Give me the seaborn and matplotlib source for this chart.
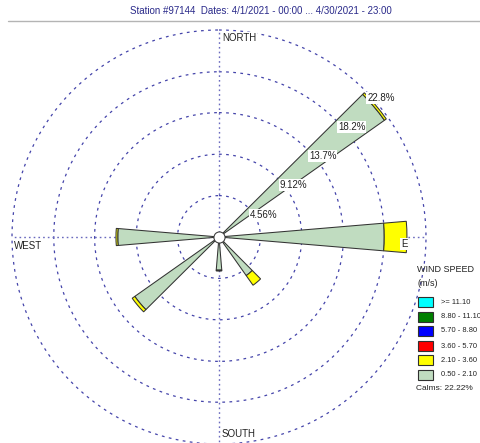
import numpy as np
import matplotlib
matplotlib.use('Agg')
import matplotlib.pyplot as plt
from matplotlib.patches import Rectangle
from matplotlib.lines import Line2D
import seaborn as sns

# wind directions (degrees from north) that have any data
directions = [50, 90, 140, 180, 230, 270]
# frequency (%) per speed class, from the centre outward
freq_050_210 = [22.3, 18.2, 5.2, 3.65, 11.35, 11.15]
freq_210_360 = [0.25, 2.5, 1.3, 0.1, 0.35, 0.2]
freq_360_570 = [0, 0, 0, 0, 0, 0]
freq_570_880 = [0, 0, 0, 0, 0, 0]
freq_880_1110 = [0, 0, 0, 0, 0, 0]
freq_ge_1110 = [0, 0, 0, 0, 0, 0]

class_labels = ['>= 11.10', '8.80 - 11.10', '5.70 - 8.80', '3.60 - 5.70', '2.10 - 3.60', '0.50 - 2.10']
class_colors = ['#00ffff', '#008000', '#0000ff', '#ff0000', '#ffff00', '#c0dcc0']

ring_values = [4.56, 9.12, 13.7, 18.2, 22.8]
ring_labels = ['4.56%', '9.12%', '13.7%', '18.2%', '22.8%']
calms = 22.22
title = 'Station #97144  Dates: 4/1/2021 - 00:00 ... 4/30/2021 - 23:00'

sns.set_style('white')
plt.rcParams['font.family'] = ['Liberation Sans', 'DejaVu Sans']

W, H = 480, 443
fig = plt.figure(figsize=(W / 100, H / 100), dpi=100)

# polar axes sized so the outer ring sits where it is in the original
cx, cy, R = 219, 237, 207
ax = fig.add_axes([(cx - R) / W, (H - cy - R) / H, 2 * R / W, 2 * R / H], projection='polar')
ax.set_theta_zero_location('N')
ax.set_theta_direction(-1)
rmax = ring_values[-1]
ax.set_ylim(0, rmax)
ax.set_axis_off()

# dashed rings
t = np.linspace(0, 2 * np.pi, 500)
for r in ring_values:
    ax.plot(t, np.full_like(t, r), color='#4444aa', lw=0.9, ls=(0, (2.2, 3.5)),
            clip_on=False, zorder=1)

# dotted N-S / E-W lines
for a in [0, 90, 180, 270]:
    ax.plot([np.deg2rad(a)] * 2, [0, rmax], color='#6a6abe', lw=1.0,
            ls=(0, (1.2, 2.2)), clip_on=False, zorder=1)

# stacked petals
series = [freq_050_210, freq_210_360, freq_360_570, freq_570_880, freq_880_1110, freq_ge_1110]
theta = np.deg2rad(directions)
bottom = np.zeros(len(directions))
for vals, col in zip(series, class_colors[::-1]):
    vals = np.array(vals, dtype=float)
    m = vals > 0
    if m.any():
        ax.bar(theta[m], vals[m], width=np.deg2rad(9.6), bottom=bottom[m], color=col,
               edgecolor='#333333', linewidth=0.75, zorder=3, clip_on=False)
    bottom += vals

# calm circle
ax.plot(0, 0, 'o', ms=8, mfc='white', mec='#404040', mew=0.8, zorder=6)

# ring labels along NE
for r, lab in zip(ring_values, ring_labels):
    ax.annotate(lab, xy=(np.deg2rad(45), r), xytext=(2, -7), textcoords='offset pixels',
                ha='left', va='center', fontsize=7, color='#222222', zorder=7,
                bbox=dict(boxstyle='square,pad=0.1', fc='white', ec='none'))

# compass labels
lab_kw = dict(textcoords='offset pixels', fontsize=7, color='#222222', zorder=7,
              bbox=dict(boxstyle='square,pad=0.1', fc='white', ec='none'), annotation_clip=False)
ax.annotate('NORTH', xy=(0, rmax), xytext=(3, -3), ha='left', va='top', **lab_kw)
ax.annotate('WEST', xy=(np.deg2rad(270), rmax), xytext=(2, -4), ha='left', va='top', **lab_kw)
ax.annotate('SOUTH', xy=(np.pi, rmax), xytext=(3, 10), ha='left', va='center', **lab_kw)
ax.annotate('E', xy=(np.pi / 2, rmax), xytext=(-25, -7), ha='left', va='center', **lab_kw)

# title and rule
fig.text(261 / W, 1 - 11 / H, title, ha='center', va='center', fontsize=7, color='#2a2a8a')
fig.add_artist(Line2D([8 / W, 1], [1 - 21 / H] * 2, color='#b4b4b4', lw=1.0))

# legend
fig.text(417 / W, 1 - 270 / H, 'WIND SPEED', ha='left', va='center', fontsize=6.5, color='#222222')
fig.text(417 / W, 1 - 283 / H, '(m/s)', ha='left', va='center', fontsize=6.5, color='#222222')
row_y = [302, 317, 331, 346, 360, 375]
for y, col, lab in zip(row_y, class_colors, class_labels):
    fig.add_artist(Rectangle((418 / W, 1 - (y + 5) / H), 15 / W, 10 / H, transform=fig.transFigure,
                             fc=col, ec='#303030', lw=0.8))
    fig.text(441 / W, 1 - y / H, lab, ha='left', va='center', fontsize=5.4, color='#222222')
fig.text(416 / W, 1 - 388 / H, f'Calms: {calms:.2f}%', ha='left', va='center', fontsize=6, color='#222222')

fig.savefig('out.png', dpi=100)
